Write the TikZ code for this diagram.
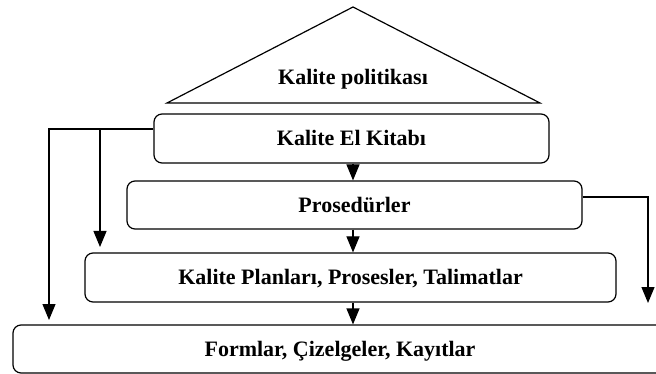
\documentclass[tikz,border=0pt]{standalone}
\usepackage{fontspec}
\setmainfont{Liberation Serif}
\usetikzlibrary{arrows.meta}
\tikzset{
  txt/.style={font=\bfseries\fontsize{22}{26}\selectfont},
  box/.style={txt, draw, line width=1.2pt, rounded corners=8pt, inner sep=0pt,
    text height=14.5pt, text depth=0pt},
  arr/.style={line width=1.2pt, -{Triangle[width=13pt,length=16pt]}},
  ln/.style={line width=1.2pt}
}
\begin{document}
\begin{tikzpicture}[x=1pt,y=-1pt]
\useasboundingbox (0,0) rectangle (656,374);
% triangle
\draw[ln, line join=miter] (353,7) -- (540,103) -- (167,103) -- cycle;
\node[anchor=base, txt] (pol) at (353,85) {Kalite politikası};
% boxes
\node[box, minimum width=395pt, minimum height=49pt] (kek) at (351.5,138.5) {Kalite El Kitabı};
\node[box, minimum width=455pt, minimum height=48pt] (pro) at (354.5,205) {Prosedürler};
\node[box, minimum width=531pt, minimum height=49pt] (pla) at (350.5,277.5) {Kalite Planları, Prosesler, Talimatlar};
\node[box, minimum width=654pt, minimum height=48pt] (for) at (340,349) {Formlar, Çizelgeler, Kayıtlar};
% center arrows
\draw[arr] (kek.south -| pol) -- (pro.north -| pol);
\draw[arr] (pro.south -| pol) -- (pla.north -| pol);
\draw[arr] (pla.south -| pol) -- (for.north -| pol);
% left connectors
\coordinate (l1) at (49,320);
\coordinate (j) at (100,129);
\coordinate (l2) at (100,247);
\draw[arr] ([yshift=9.5pt]kek.west) -| (l1);
\draw[arr] (j) -- (l2);
% right connector
\coordinate (r1) at (648,303);
\draw[arr] ([yshift=8pt]pro.east) -| (r1);
\end{tikzpicture}
\end{document}
